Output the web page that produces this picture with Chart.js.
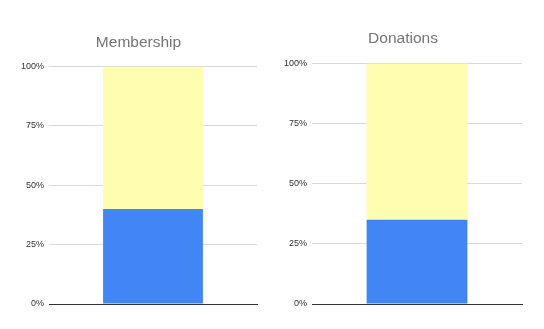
<!DOCTYPE html>
<html>
<head>
<meta charset="utf-8">
<script src="https://cdn.jsdelivr.net/npm/chart.js@4/dist/chart.umd.min.js"></script>
<style>
  html, body { margin: 0; padding: 0; background: #fff; }
  body { width: 544px; height: 329px; position: relative; overflow: hidden; }
  .box { position: absolute; top: 0; height: 329px; }
  #left  { left: 0;     width: 258px; }
  #right { left: 272px; width: 253px; }
</style>
</head>
<body>
<div class="box" id="left"><canvas id="membershipChart"></canvas></div>
<div class="box" id="right"><canvas id="donationsChart"></canvas></div>
<script>
// data
const categories     = [''];
const seriesNames    = ['Share', 'Rest'];
const seriesColors   = ['#4285f4', '#fffdb0'];
const membership     = [40, 60];
const donations      = [35, 65];
const yTicks         = [0, 25, 50, 75, 100];

function makeChart(id, title, values, opts) {
  const ctx = document.getElementById(id);
  return new Chart(ctx, {
    type: 'bar',
    data: {
      labels: categories,
      datasets: values.map((v, i) => ({
        label: seriesNames[i],
        data: [v],
        backgroundColor: seriesColors[i],
        borderWidth: 0,
        barPercentage: 0.48,
        categoryPercentage: 1
      }))
    },
    options: {
      responsive: true, maintainAspectRatio: false, animation: false,
      layout: { padding: { left: opts.padLeft, right: opts.padRight, top: 0, bottom: 0 } },
      plugins: {
        legend: { display: false },
        tooltip: { enabled: false },
        title: {
          display: true, text: title, color: '#757575',
          font: { family: 'Liberation Sans, Arial', size: 15.5, weight: 'normal' },
          padding: { top: opts.titleTop, bottom: opts.titleBottom }
        }
      },
      scales: {
        x: {
          stacked: true,
          ticks: { display: false },
          grid: { display: false },
          border: { color: '#333', width: 1 },
          afterFit: s => { s.height = 25; }
        },
        y: {
          stacked: true, min: 0, max: 100,
          afterBuildTicks: s => { s.ticks = yTicks.map(v => ({ value: v })); },
          ticks: {
            color: '#333', padding: 5,
            font: { family: 'Liberation Sans, Arial', size: 9 },
            callback: v => v + '%'
          },
          grid: { color: '#d9d9d9', drawTicks: false },
          border: { display: false },
          afterFit: s => { s.width = opts.axisWidth; }
        }
      }
    }
  });
}

makeChart('membershipChart', 'Membership', membership, { padLeft: 20, padRight: 1, axisWidth: 29, titleTop: 33, titleBottom: 15 });
makeChart('donationsChart', 'Donations', donations, { padLeft: 12, padRight: 3, axisWidth: 28, titleTop: 29, titleBottom: 16 });
</script>
</body>
</html>
